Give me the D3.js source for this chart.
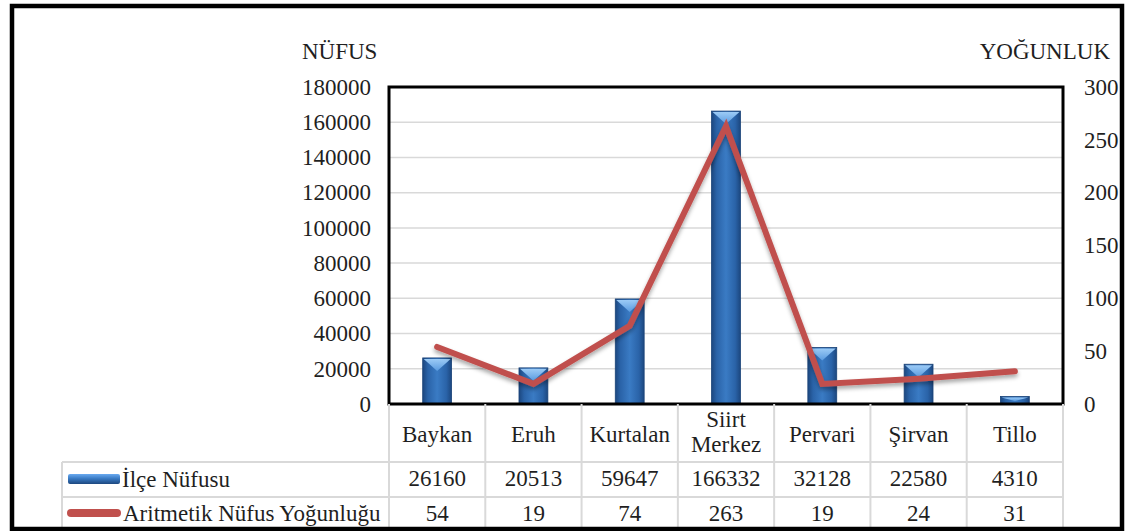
<!DOCTYPE html>
<html>
<head>
<meta charset="utf-8">
<script src="https://cdn.jsdelivr.net/npm/d3@7/dist/d3.min.js"></script>
</head>
<body style="margin:0">
<svg id="chart" width="1126" height="531"></svg>
<script>
// District population (bars) and arithmetic density (line)
const categories = ["Baykan", "Eruh", "Kurtalan", "Siirt Merkez", "Pervari", "Şirvan", "Tillo"];
const nufus = [26160, 20513, 59647, 166332, 32128, 22580, 4310];
const yogunluk = [54, 19, 74, 263, 19, 24, 31];
const leftTicks = [0, 20000, 40000, 60000, 80000, 100000, 120000, 140000, 160000, 180000];
const rightTicks = [0, 50, 100, 150, 200, 250, 300];
const seriesNames = ["İlçe Nüfusu", "Aritmetik Nüfus Yoğunluğu"];
const axisTitles = ["NÜFUS", "YOĞUNLUK"];

const svg = d3.select("#chart");
const plot = { left: 389, right: 1063, top: 87, bottom: 404 };
const table = { legendLeft: 62, row1: 462, row2: 497, bottom: 528 };
const INK = "#1f1f1f";

// serif text style for every label
const serif = sel => sel.style("font-family", "'Liberation Serif'").style("font-size", "23px").style("fill", INK);

const defs = svg.append("defs");
const barGrad = defs.append("linearGradient").attr("id", "barGrad")
  .attr("x1", "0%").attr("x2", "100%").attr("y1", "0%").attr("y2", "0%");
[["0%", "#1c477f"], ["18%", "#2a63a8"], ["50%", "#3a7bc4"], ["82%", "#2a63a8"], ["100%", "#1c477f"]]
  .forEach(([o, c]) => barGrad.append("stop").attr("offset", o).attr("stop-color", c));
const bevelGrad = defs.append("linearGradient").attr("id", "bevelGrad")
  .attr("x1", "0%").attr("x2", "0%").attr("y1", "0%").attr("y2", "100%");
[["0%", "#9ccbf6"], ["100%", "#5a9be0"]]
  .forEach(([o, c]) => bevelGrad.append("stop").attr("offset", o).attr("stop-color", c));
const keyGrad = defs.append("linearGradient").attr("id", "keyGrad")
  .attr("x1", "0%").attr("x2", "0%").attr("y1", "0%").attr("y2", "100%");
[["0%", "#6aaaf0"], ["45%", "#3a7bc4"], ["100%", "#1c477f"]]
  .forEach(([o, c]) => keyGrad.append("stop").attr("offset", o).attr("stop-color", c));
const shadow = defs.append("filter").attr("id", "lineShadow")
  .attr("x", "-10%").attr("y", "-10%").attr("width", "120%").attr("height", "130%");
shadow.append("feDropShadow").attr("dx", 0).attr("dy", 3).attr("stdDeviation", 2.2)
  .attr("flood-color", "#000").attr("flood-opacity", 0.35);

// Scales
const x = d3.scaleBand().domain(categories).range([plot.left, plot.right]).padding(0);
const yL = d3.scaleLinear().domain([0, 180000]).range([plot.bottom, plot.top]);
const yR = d3.scaleLinear().domain([0, 300]).range([plot.bottom, plot.top]);
const barW = x.bandwidth() * 0.3;

// Gridlines
svg.append("g").selectAll("line").data(leftTicks.slice(1)).join("line")
  .attr("x1", plot.left).attr("x2", plot.right)
  .attr("y1", d => yL(d)).attr("y2", d => yL(d))
  .attr("stroke", "#d9d9d9").attr("stroke-width", 1.5);

// Bars with a bevelled top
const bars = svg.append("g");
categories.forEach((c, i) => {
  const x0 = x(c) + (x.bandwidth() - barW) / 2;
  const y0 = yL(nufus[i]);
  const h = yL(0) - y0;
  bars.append("rect").attr("x", x0).attr("y", y0).attr("width", barW).attr("height", h)
    .attr("fill", "url(#barGrad)").attr("stroke", "#1a4378").attr("stroke-width", 0.8);
  const bev = Math.min(13, h * 0.6);
  bars.append("path")
    .attr("d", `M${x0 + 1},${y0 + 1} L${x0 + barW - 1},${y0 + 1} L${x0 + barW / 2},${y0 + bev} Z`)
    .attr("fill", "url(#bevelGrad)");
});

// Density line
const line = d3.line().x((d, i) => x(categories[i]) + x.bandwidth() / 2).y(d => yR(d));
svg.append("path").datum(yogunluk).attr("d", line)
  .attr("fill", "none").attr("stroke", "#c0504d").attr("stroke-width", 6)
  .attr("stroke-linejoin", "miter").attr("stroke-linecap", "round")
  .attr("filter", "url(#lineShadow)");

// Plot frame
svg.append("rect").attr("x", plot.left).attr("y", plot.top)
  .attr("width", plot.right - plot.left).attr("height", plot.bottom - plot.top)
  .attr("fill", "none").attr("stroke", "#000").attr("stroke-width", 3);

// Axis labels, placed from the scales
svg.append("g").selectAll("text").data(leftTicks).join("text")
  .attr("x", plot.left - 18).attr("y", d => yL(d)).attr("dy", "0.34em")
  .attr("text-anchor", "end").text(d => d).call(serif);
svg.append("g").selectAll("text").data(rightTicks).join("text")
  .attr("x", plot.right + 21).attr("y", d => yR(d)).attr("dy", "0.34em")
  .text(d => d).call(serif);

svg.append("text").attr("x", 302).attr("y", 59).text(axisTitles[0]).call(serif);
svg.append("text").attr("x", 1110).attr("y", 59).attr("text-anchor", "end").text(axisTitles[1]).call(serif);

// Data table grid
const grid = svg.append("g").attr("stroke", "#d9d9d9").attr("stroke-width", 2);
[table.row1, table.row2].forEach(yy =>
  grid.append("line").attr("x1", table.legendLeft).attr("x2", plot.right).attr("y1", yy).attr("y2", yy));
grid.append("line").attr("x1", table.legendLeft).attr("x2", table.legendLeft)
  .attr("y1", table.row1).attr("y2", table.bottom);
categories.forEach(c => {
  grid.append("line").attr("x1", x(c)).attr("x2", x(c)).attr("y1", plot.bottom).attr("y2", table.bottom);
});
grid.append("line").attr("x1", plot.right).attr("x2", plot.right).attr("y1", plot.bottom).attr("y2", table.bottom);

// Category labels
categories.forEach(c => {
  const parts = c.split(" ");
  const cx = x(c) + x.bandwidth() / 2;
  const t = svg.append("text").attr("x", cx).attr("text-anchor", "middle").call(serif);
  if (parts.length === 1) {
    t.attr("y", 442).text(c);
  } else {
    parts.forEach((p, k) => t.append("tspan").attr("x", cx).attr("y", 427 + k * 25).text(p));
  }
});

// Table values
categories.forEach((c, i) => {
  const cx = x(c) + x.bandwidth() / 2;
  svg.append("text").attr("x", cx).attr("y", 486).attr("text-anchor", "middle").text(nufus[i]).call(serif);
  svg.append("text").attr("x", cx).attr("y", 521).attr("text-anchor", "middle").text(yogunluk[i]).call(serif);
});

// Legend keys and names
svg.append("rect").attr("x", 68).attr("y", 474).attr("width", 52).attr("height", 10).attr("rx", 2)
  .attr("fill", "url(#keyGrad)");
svg.append("line").attr("x1", 71).attr("x2", 117).attr("y1", 513).attr("y2", 513)
  .attr("stroke", "#c0504d").attr("stroke-width", 8).attr("stroke-linecap", "round");
svg.append("text").attr("x", 122).attr("y", 487).text(seriesNames[0]).call(serif);
svg.append("text").attr("x", 123).attr("y", 521).text(seriesNames[1]).call(serif);

// Outer border
svg.append("rect").attr("x", 12).attr("y", 6).attr("width", 1110).attr("height", 523)
  .attr("fill", "none").attr("stroke", "#000").attr("stroke-width", 4.5);
</script>
</body>
</html>
